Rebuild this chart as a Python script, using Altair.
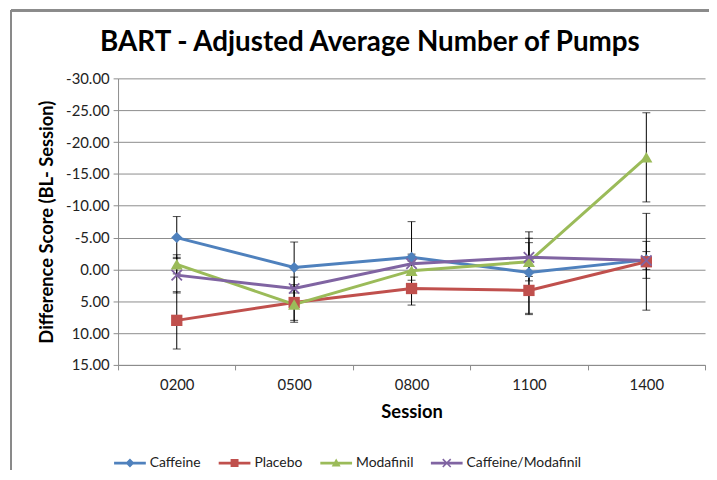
import altair as alt
import pandas as pd

sessions = ["0200", "0500", "0800", "1100", "1400"]
series_names = ["Caffeine", "Placebo", "Modafinil", "Caffeine/Modafinil"]
colors = ["#4F81BD", "#C0504D", "#9BBB59", "#8064A2"]

caffeine = [-5.0, -0.3, -1.9, 0.5, -1.5]
caffeine_err = [3.3, 4.0, 5.6, 6.4, 2.9]
placebo = [8.0, 5.2, 3.0, 3.3, -1.2]
placebo_err = [4.5, 2.8, 2.6, 3.8, 7.6]
modafinil = [-0.8, 5.5, 0.2, -1.2, -17.6]
modafinil_err = [1.5, 2.8, 1.5, 3.0, 7.0]
cafmod = [0.9, 3.0, -0.9, -1.9, -1.4]
cafmod_err = [2.8, 1.8, 1.5, 3.0, 1.4]
y_ticks = [-30, -25, -20, -15, -10, -5, 0, 5, 10, 15]

values = [caffeine, placebo, modafinil, cafmod]
errors = [caffeine_err, placebo_err, modafinil_err, cafmod_err]

rows = []
for name, vals, errs in zip(series_names, values, errors):
    for s, v, e in zip(sessions, vals, errs):
        rows.append({"series": name, "session": s, "value": v, "lo": v - e, "hi": v + e})
df = pd.DataFrame(rows)

font = "Lato"
xscale = alt.Scale(type="band", domain=sessions, paddingInner=0, paddingOuter=0)
yscale = alt.Scale(domain=[-30, 15], reverse=True, nice=False, zero=False)
cscale = alt.Scale(domain=series_names, range=colors)

xaxis = alt.Axis(title="Session", labelAngle=0, tickBand="extent", grid=False,
                 tickSize=5, labelPadding=8, titlePadding=10)
yaxis = alt.Axis(title="Difference Score  (BL- Session)",
                 values=y_ticks, labelOverlap=False, grid=True,
                 labelExpr="replace(format(datum.value, '.2f'), '\u2212', '-')",
                 tickSize=5, labelPadding=4, titlePadding=9)

X = alt.X("session:N", scale=xscale, sort=sessions, axis=xaxis)
Y = alt.Y("value:Q", scale=yscale, axis=yaxis)
YLO = alt.Y("lo:Q", scale=yscale, axis=yaxis)
YHI = alt.Y("hi:Q", scale=yscale, axis=yaxis)

base = alt.Chart(df)

border_left = base.mark_rule(color="#8a8a8a", strokeWidth=1.5).encode(
    x=alt.value(-108), y=alt.value(-69), y2=alt.value(420))
border_top = base.mark_rule(color="#8a8a8a", strokeWidth=1.5).encode(
    x=alt.value(-108), x2=alt.value(700), y=alt.value(-68.5))

err_rules = base.mark_rule(color="#000000", strokeWidth=1).encode(x=X, y=YLO, y2="hi:Q")
err_lo = base.mark_tick(color="#000000", size=8, thickness=1).encode(x=X, y=YLO)
err_hi = base.mark_tick(color="#000000", size=8, thickness=1).encode(x=X, y=YHI)

line_layers = []
for name, col in zip(series_names, colors):
    line_layers.append(
        base.transform_filter(alt.datum.series == name).mark_line(
            strokeWidth=3, color=col).encode(x=X, y=Y))

marker_shapes = {"Caffeine": ("diamond", 125), "Placebo": ("square", 130),
                 "Modafinil": ("triangle-up", 150)}
point_layers = []
for name, col in zip(series_names[:3], colors[:3]):
    shp, sz = marker_shapes[name]
    point_layers.append(
        base.transform_filter(alt.datum.series == name).mark_point(
            filled=True, shape=shp, size=sz, opacity=1, color=col).encode(x=X, y=Y))
point_layers.append(
    base.transform_filter(alt.datum.series == "Caffeine/Modafinil").mark_point(
        filled=False, shape="M-1,-1L1,1M-1,1L1,-1", size=110, strokeWidth=1.8, opacity=1,
        color=colors[3]).encode(x=X, y=Y))

# legend glyphs: line segment + marker (all sub-paths same winding)
line_seg = "M-3.2,-0.28L3.2,-0.28L3.2,0.28L-3.2,0.28Z"
a, e = 0.8, 0.11
xglyph = (f"M{-a+e},{-a-e}L{a+e},{a-e}L{a-e},{a+e}L{-a-e},{-a+e}Z"
          f"M{-a-e},{a-e}L{a-e},{-a-e}L{a+e},{-a+e}L{-a+e},{a+e}Z")
legend_paths = [
    line_seg + "M0,-0.9L0.9,0L0,0.9L-0.9,0Z",
    line_seg + "M-0.8,-0.8L0.8,-0.8L0.8,0.8L-0.8,0.8Z",
    line_seg + "M0,-0.9L0.9,0.7L-0.9,0.7Z",
    line_seg + xglyph,
]
leg = alt.Legend(title=None, orient="none", direction="horizontal", legendX=5, legendY=381,
                 symbolSize=100, symbolStrokeWidth=0, labelOffset=13, columnPadding=17.5,
                 labelFontSize=14, labelFont=font, labelColor="#222222")
legend_layer = alt.Chart(pd.DataFrame({"series": series_names})).mark_point(
    filled=True, size=100, clip=True, opacity=1).encode(
    x=alt.value(-300), y=alt.value(-300),
    color=alt.Color("series:N", scale=cscale, legend=leg),
    shape=alt.Shape("series:N", scale=alt.Scale(domain=series_names, range=legend_paths), legend=leg))

chart = alt.layer(err_rules, err_lo, err_hi, *line_layers,
                  *point_layers, legend_layer, border_left, border_top).properties(
    width=592, height=289,
    padding={"left": 111, "top": 69, "right": 4, "bottom": 104},
    autosize=alt.AutoSizeParams(type="none"),
    title=alt.TitleParams("BART - Adjusted Average Number of Pumps", font=font, fontSize=28,
                          fontWeight="bold", color="#000000", anchor="middle", frame="group",
                          dx=-42, offset=-48),
    background="white",
).configure_view(stroke=None).configure_axis(
    labelFont=font, labelFontSize=15, labelColor="#222222",
    titleFont=font, titleFontSize=18.5, titleFontWeight="bold", titleColor="#000000",
    gridColor="#8c8c8c", gridWidth=1, domainColor="#8c8c8c", tickColor="#8c8c8c",
)

chart.save("out.html", embed_options={"renderer": "svg", "actions": False})
